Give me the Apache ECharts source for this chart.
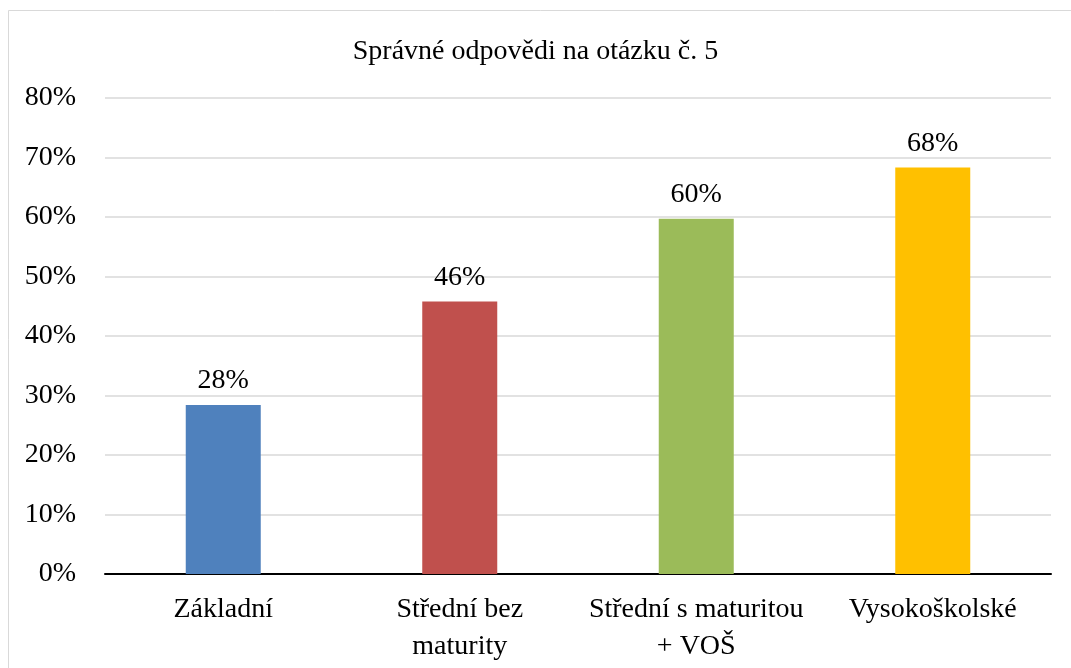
<!DOCTYPE html>
<html>
<head>
<meta charset="utf-8">
<script src="https://cdn.jsdelivr.net/npm/echarts@6/dist/echarts.min.js"></script>
<style>
  html, body { margin: 0; padding: 0; background: #fff; }
  #main { width: 1071px; height: 668px; }
</style>
</head>
<body>
<div id="main"></div>
<script>
const categories = ['Základní', 'Střední bez\nmaturity', 'Střední s maturitou\n+ VOŠ', 'Vysokoškolské'];
const values = [28.4, 45.8, 59.7, 68.3];
const barColors = ['#4F81BD', '#C0504D', '#9BBB59', '#FFC000'];
const yTicks = [0, 10, 20, 30, 40, 50, 60, 70, 80];

const font = '"Liberation Serif", "Times New Roman", serif';
const chart = echarts.init(document.getElementById('main'));

chart.setOption({
  backgroundColor: '#ffffff',
  animation: false,
  title: {
    text: 'Správné odpovědi na otázku č. 5',
    left: 'center',
    top: 33,
    textStyle: { fontFamily: font, fontSize: 28, fontWeight: 'normal', color: '#000' }
  },
  graphic: [{
    type: 'rect',
    shape: { x: 8.5, y: 10.5, width: 1100, height: 700 },
    style: { fill: 'none', stroke: '#d9d9d9', lineWidth: 1 },
    silent: true
  }],
  grid: { left: 105, right: 20, top: 98, bottom: 94 },
  xAxis: {
    type: 'category',
    data: categories,
    axisLine: { lineStyle: { color: '#000', width: 2 } },
    axisTick: { show: false },
    axisLabel: {
      fontFamily: font, fontSize: 28, color: '#000', margin: 17,
      lineHeight: 37, interval: 0
    }
  },
  yAxis: {
    type: 'value',
    min: yTicks[0],
    max: yTicks[yTicks.length - 1],
    interval: 10,
    axisLine: { show: false },
    axisTick: { show: false },
    splitLine: { lineStyle: { color: '#d9d9d9', width: 1.5 } },
    axisLabel: {
      fontFamily: font, fontSize: 28, color: '#000', margin: 29,
      formatter: v => v + '%'
    }
  },
  series: [{
    type: 'bar',
    barWidth: 75,
    data: values.map((v, i) => ({ value: v, itemStyle: { color: barColors[i] } })),
    label: {
      show: true,
      position: 'top',
      distance: 10,
      fontFamily: font, fontSize: 28, color: '#000',
      formatter: p => Math.round(p.value) + '%'
    }
  }]
});
</script>
</body>
</html>
